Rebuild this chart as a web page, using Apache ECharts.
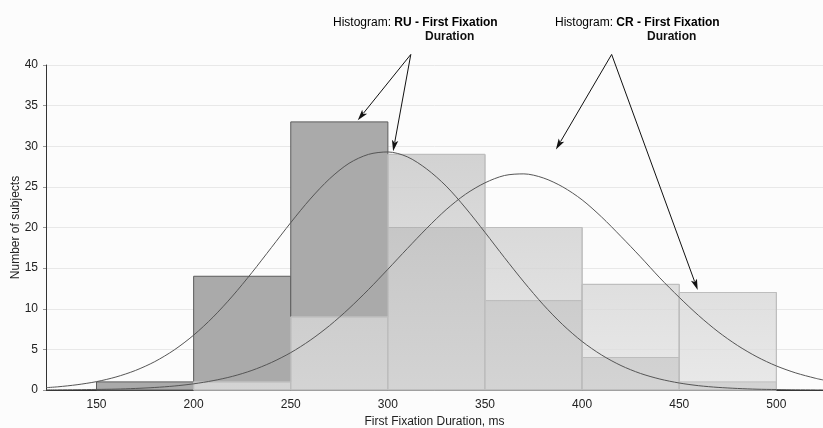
<!DOCTYPE html>
<html>
<head>
<meta charset="utf-8">
<script src="https://cdn.jsdelivr.net/npm/echarts@6/dist/echarts.min.js"></script>
<style>
html,body{margin:0;padding:0;background:#fcfcfc;}
#chart{width:823px;height:428px;}
</style>
</head>
<body>
<div id="chart"></div>
<script>
// Bin edges (ms)
var binStarts = [150, 200, 250, 300, 350, 400, 450];
var binEnds   = [200, 250, 300, 350, 400, 450, 500];
// Histogram counts
var ruCounts = [1, 14, 33, 20, 11, 4, 1];
var crCounts = [0, 1, 9, 29, 20, 13, 12];
// Fitted normal curves
var curveX = [124,130,140,150,160,170,180,190,200,210,220,230,240,250,260,270,280,290,300,310,320,330,340,350,360,370,380,390,400,410,420,430,440,450,460,470,480,490,500,510,520,524];
var ruCurve = [0.29,0.39,0.65,1.03,1.60,2.40,3.49,4.93,6.75,8.97,11.56,14.45,17.52,20.6,23.5,26.0,27.9,29.0,29.3,28.7,27.2,25.1,22.4,19.4,16.3,13.3,10.5,8.04,5.97,4.31,3.01,2.04,1.35,0.86,0.53,0.32,0.19,0.10,0.06,0.03,0.015,0.01];
var crCurve = [0.015,0.02,0.04,0.07,0.11,0.19,0.31,0.49,0.76,1.15,1.68,2.41,3.38,4.60,6.12,7.93,10.03,12.36,14.86,17.41,19.9,22.2,24.1,25.5,26.4,26.6,26.1,25.0,23.4,21.3,18.9,16.4,13.8,11.4,9.16,7.17,5.48,4.08,2.96,2.10,1.45,1.24];
// Tick labels
var xTicks = [150, 200, 250, 300, 350, 400, 450, 500];

function binData(counts) {
  var out = [];
  for (var i = 0; i < counts.length; i++) {
    if (counts[i] > 0) out.push([binStarts[i], binEnds[i], counts[i]]);
  }
  return out;
}
function pairs(xs, ys) {
  return xs.map(function (x, i) { return [x, ys[i]]; });
}
function barRenderer(fillFn, stroke) {
  return function (params, api) {
    var p0 = api.coord([api.value(0), api.value(2)]);
    var p1 = api.coord([api.value(1), 0]);
    var top = api.coord([api.value(0), 40])[1];
    return {
      type: 'rect',
      shape: { x: p0[0], y: p0[1], width: p1[0] - p0[0], height: p1[1] - p0[1] },
      style: { fill: fillFn(top, p1[1]), stroke: stroke, lineWidth: 1 }
    };
  };
}
function darkFill() { return '#aaaaaa'; }
function lightFill(y0, y1) {
  return new echarts.graphic.LinearGradient(0, y0, 0, y1, [
    { offset: 0, color: 'rgba(188,188,188,0.80)' },
    { offset: 1, color: 'rgba(226,226,226,0.74)' }
  ], true);
}

var chart = echarts.init(document.getElementById('chart'), null, { renderer: 'canvas' });
var font = 'Liberation Sans, Arial, sans-serif';

chart.setOption({
  backgroundColor: '#fcfcfc',
  animation: false,
  grid: { left: 46, right: 0, top: 65, bottom: 38, containLabel: false, outerBoundsMode: 'none' },
  xAxis: {
    type: 'value', min: 124, max: 524,
    name: 'First Fixation Duration, ms', nameLocation: 'middle', nameGap: 26,
    nameTextStyle: { fontFamily: font, fontSize: 12, color: '#222' },
    axisLine: { show: true, lineStyle: { color: '#333', width: 1 } },
    axisTick: { show: false },
    splitLine: { show: false },
    axisLabel: { customValues: xTicks, fontFamily: font, fontSize: 12, color: '#222', margin: 9 }
  },
  yAxis: {
    type: 'value', min: 0, max: 40, interval: 5,
    name: 'Number of subjects', nameLocation: 'middle', nameGap: 24, nameRotate: 90,
    nameMoveOverlap: false,
    nameTextStyle: { fontFamily: font, fontSize: 12, color: '#222' },
    axisLine: { show: true, lineStyle: { color: '#333', width: 1 } },
    axisTick: { show: true, length: 3, inside: false, lineStyle: { color: '#999' } },
    splitLine: { show: true, lineStyle: { color: '#e8e8e8', width: 1 } },
    axisLabel: { fontFamily: font, fontSize: 12, color: '#222', margin: 8 }
  },
  series: [
    {
      type: 'custom', name: 'RU', data: binData(ruCounts),
      encode: { x: [0, 1], y: 2 },
      renderItem: barRenderer(darkFill, '#5c5c5c'), z: 2
    },
    {
      type: 'custom', name: 'CR', data: binData(crCounts),
      encode: { x: [0, 1], y: 2 },
      renderItem: barRenderer(lightFill, '#bdbdbd'), z: 3
    },
    {
      type: 'line', name: 'RU fit', data: pairs(curveX, ruCurve), smooth: 0.3,
      showSymbol: false, lineStyle: { color: '#555', width: 1 }, z: 4
    },
    {
      type: 'line', name: 'CR fit', data: pairs(curveX, crCurve), smooth: 0.3,
      showSymbol: false, lineStyle: { color: '#555', width: 1 }, z: 4
    }
  ]
});

// Annotation arrows (data coordinates converted through the grid)
var arrows = [
  [[311.8, 41.3], [284.5, 33.2]],
  [[311.8, 41.3], [302.7, 29.4]],
  [[415.2, 41.3], [386.5, 29.6]],
  [[415.2, 41.3], [459.5, 12.3]]
];
var graphics = [];
arrows.forEach(function (a) {
  var s = chart.convertToPixel({ gridIndex: 0 }, a[0]);
  var e = chart.convertToPixel({ gridIndex: 0 }, a[1]);
  var dx = e[0] - s[0], dy = e[1] - s[1];
  var len = Math.sqrt(dx * dx + dy * dy);
  var ux = dx / len, uy = dy / len;
  var hl = 11, hw = 3.2;
  var bx = e[0] - ux * hl, by = e[1] - uy * hl;
  graphics.push({
    type: 'line', z: 100,
    shape: { x1: s[0], y1: s[1], x2: bx + ux * 2, y2: by + uy * 2 },
    style: { stroke: '#111', lineWidth: 1 }
  });
  graphics.push({
    type: 'polygon', z: 100,
    shape: { points: [[e[0], e[1]], [bx - uy * hw, by + ux * hw], [bx + ux * 2.5, by + uy * 2.5], [bx + uy * hw, by - ux * hw]] },
    style: { fill: '#111' }
  });
});
var rich = {
  n: { fontFamily: font, fontSize: 12, color: '#111' },
  b: { fontFamily: font, fontSize: 12, fontWeight: 'bold', color: '#111' }
};
graphics.push({
  type: 'text', left: 333, top: 17, z: 100,
  style: { text: '{n|Histogram: }{b|RU - First Fixation}', rich: rich }
});
graphics.push({
  type: 'text', left: 425, top: 31, z: 100,
  style: { text: 'Duration', fontFamily: font, fontSize: 12, fontWeight: 'bold', fill: '#111' }
});
graphics.push({
  type: 'text', left: 555, top: 17, z: 100,
  style: { text: '{n|Histogram: }{b|CR - First Fixation}', rich: rich }
});
graphics.push({
  type: 'text', left: 647, top: 31, z: 100,
  style: { text: 'Duration', fontFamily: font, fontSize: 12, fontWeight: 'bold', fill: '#111' }
});
chart.setOption({ graphic: graphics });
</script>
</body>
</html>
